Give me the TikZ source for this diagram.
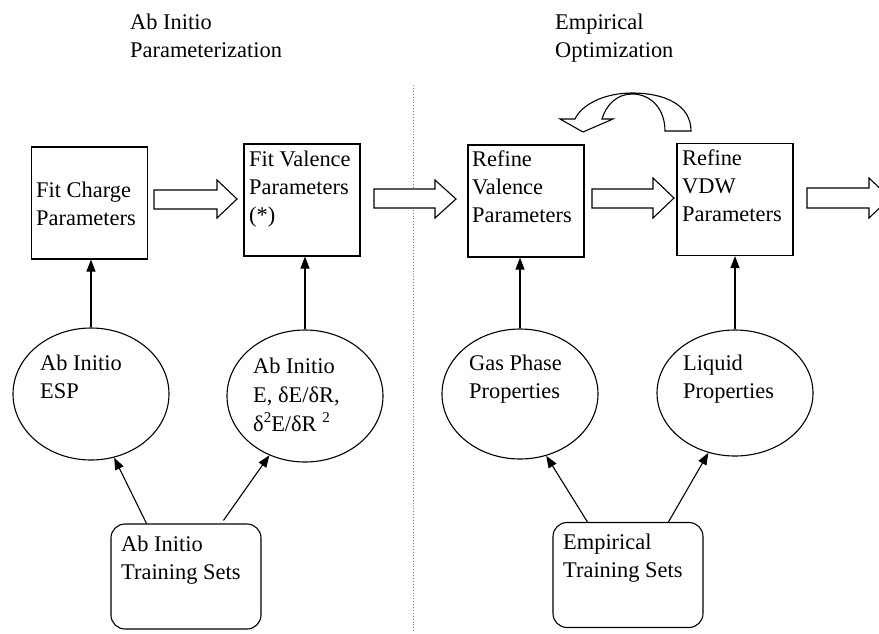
\documentclass[tikz,border=0pt]{standalone}
\usepackage{fontspec}
\setmainfont{Liberation Serif}
\usetikzlibrary{shapes.geometric,arrows.meta,calc}
\begin{document}
\begin{tikzpicture}[x=1pt,y=-1pt,
  lw/.style={line width=1.1pt},
  procbox/.style={draw,lw,rectangle,inner sep=0pt,minimum width=116pt,minimum height=112pt},
  dataell/.style={draw,lw,ellipse,inner sep=0pt,minimum width=156pt,minimum height=#1},
  setbox/.style={draw,lw,rectangle,rounded corners=14pt,inner sep=0pt,minimum width=150pt,minimum height=105pt},
  txt/.style={anchor=base west,inner sep=0pt,font=\fontsize{22.4}{28}\selectfont},
  conn/.style={lw,-{Triangle[length=12pt,width=9pt]}},
  blockarrow/.style={lw,fill=white,line join=miter},
  divider/.style={gray,dotted,line width=0.9pt}
]
\useasboundingbox (0,0) rectangle (879,633);
\clip (0,0) rectangle (879,633);

% titles
\node[txt] (title1) at (130,29) {\vtop{\hbox{Ab Initio}\hbox{Parameterization}}};
\node[txt] (title2) at (555,29) {\vtop{\hbox{Empirical}\hbox{Optimization}}};

% divider
\coordinate (dtop) at (413,85);
\coordinate (dbot) at (413,633);
\draw[divider] (dtop) -- (dbot);

% process boxes
\node[procbox] (b1) at (89.5,203) {};
\node[procbox] (b2) at (302,200) {};
\node[procbox] (b3) at (526,201) {};
\node[procbox] (b4) at (735,199.5) {};

\node[txt] (tb1) at (36,197) {\vtop{\hbox{Fit Charge}\hbox{Parameters}}};
\node[txt] (tb2) at (249,166) {\vtop{\hbox{Fit Valence}\hbox{Parameters}\hbox{(*)}}};
\node[txt] (tb3) at (472,166) {\vtop{\hbox{Refine}\hbox{Valence}\hbox{Parameters}}};
\node[txt] (tb4) at (682,165) {\vtop{\hbox{Refine}\hbox{VDW}\hbox{Parameters}}};

% ellipses
\node[dataell=132pt] (e1) at (91,394) {};
\node[dataell=132pt] (e2) at (305,396) {};
\node[dataell=130pt] (e3) at (520,394) {};
\node[dataell=126pt] (e4) at (735,393) {};

\node[txt] (te1) at (40,370) {\vtop{\hbox{Ab Initio}\hbox{ESP}}};
\node[txt] (te2) at (253,373) {\vtop{\baselineskip=29pt\hbox{Ab Initio}\hbox{E, δE/δR,}\hbox{δ\raisebox{9pt}{\fontsize{15}{15}\selectfont 2}E/δR\ \raisebox{9pt}{\fontsize{15}{15}\selectfont 2}}}};
\node[txt] (te3) at (469,370) {\vtop{\hbox{Gas Phase}\hbox{Properties}}};
\node[txt] (te4) at (683,370) {\vtop{\hbox{Liquid}\hbox{Properties}}};

% training sets
\node[setbox] (r1) at (186,576.5) {};
\node[setbox] (r2) at (628,575) {};
\node[txt] (tr1) at (121,551) {\vtop{\hbox{Ab Initio}\hbox{Training Sets}}};
\node[txt] (tr2) at (563,549) {\vtop{\hbox{Empirical}\hbox{Training Sets}}};

% vertical connectors
\draw[conn] (e1.north) -- (e1.north |- b1.south);
\draw[conn] (e2.north) -- (e2.north |- b2.south);
\draw[conn] (e3.north) -- (e3.north |- b3.south);
\draw[conn] (e4.north) -- (e4.north |- b4.south);

% diagonal connectors
\draw[conn] ($(r1.north west)+(36,0)$) -- (e1.-70);
\draw[conn] ($(r1.north west)+(113,-3)$) -- (e2.-121);
\draw[conn] ($(r2.north west)+(35,0)$) -- (e3.-67);
\draw[conn] ($(r2.north west)+(116,0)$) -- (e4.-114);

% block arrows
\draw[blockarrow] (154,190) -- (217,190) -- (217,180) -- (237,199) -- (217,218) -- (217,209) -- (154,209) -- cycle;
\draw[blockarrow] (374,189) -- (435,189) -- (435,180) -- (456,199) -- (435,218) -- (435,208) -- (374,208) -- cycle;
\draw[blockarrow] (592,189) -- (653,189) -- (653,178) -- (674,198) -- (653,218) -- (653,208) -- (592,208) -- cycle;
\draw[blockarrow] (807,188) -- (869,188) -- (869,178) -- (890,198) -- (869,218) -- (869,208) -- (807,208) -- cycle;

% curved feedback arrow
\draw[blockarrow] (665,131) -- (691,131) .. controls (691,105) and (665,93) .. (632,93)
  .. controls (605,93) and (582,104) .. (575,119) -- (560,119) -- (583,132) -- (613,119) -- (602,119)
  .. controls (606,105) and (617,94) .. (632,94) .. controls (652,94) and (665,110) .. (665,131) -- cycle;
\end{tikzpicture}
\end{document}
